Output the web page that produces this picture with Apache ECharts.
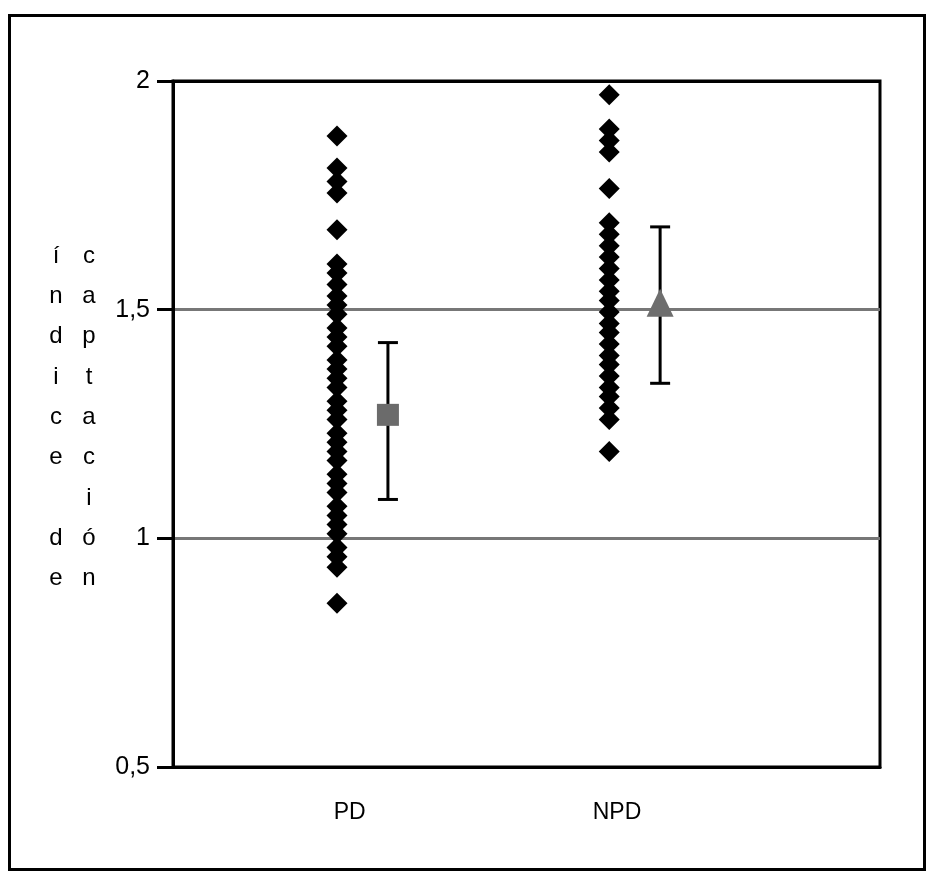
<!DOCTYPE html>
<html>
<head>
<meta charset="utf-8">
<script src="https://cdn.jsdelivr.net/npm/echarts@6/dist/echarts.min.js"></script>
<style>
  html, body { margin: 0; padding: 0; background: #fff; }
  #chart { width: 936px; height: 882px; }
</style>
</head>
<body>
<div id="chart"></div>
<script>
// individual values, read top to bottom
var pdValues = [1.88, 1.81, 1.78, 1.755, 1.675,
	1.60, 1.58, 1.555, 1.53, 1.51, 1.49, 1.46, 1.44, 1.42, 1.39,
	1.37, 1.35, 1.33, 1.30, 1.28, 1.26, 1.23, 1.21, 1.19, 1.17,
	1.14, 1.12, 1.10, 1.07, 1.05, 1.03, 1.01, 0.98, 0.96, 0.937,
	0.858];
var npdValues = [1.97, 1.895, 1.87, 1.845, 1.765,
	1.69, 1.665, 1.64, 1.615, 1.59, 1.565, 1.54, 1.52, 1.495, 1.47,
	1.45, 1.425, 1.40, 1.38, 1.355, 1.33, 1.31, 1.285, 1.26,
	1.19];

// mean and error bar ends per group
var groupNames = ['PD', 'NPD'];
var meanValues = [1.27, 1.515];
var lowValues = [1.085, 1.339];
var highValues = [1.428, 1.681];

// x positions on the hidden 0..10 scale
var pointsX = [2.32, 6.17];
var meanX = [3.04, 6.89];
var labelX = [2.5, 6.28];

var yTicks = [0.5, 1, 1.5, 2];

var font = 'Liberation Sans, Arial, sans-serif';

var myChart = echarts.init(document.getElementById('chart'));

var pdData = pdValues.map(function(v) { return [pointsX[0], v]; });
var npdData = npdValues.map(function(v) { return [pointsX[1], v]; });
var errData = [];
for (var i = 0; i < groupNames.length; i++) {
	errData.push([meanX[i], lowValues[i], highValues[i]]);
}

var option = {
	animation: false,
	backgroundColor: '#fff',
	grid: {
		left: 173,
		right: 56,
		top: 81,
		bottom: 115,
		show: true,
		borderColor: '#000',
		borderWidth: 3
	},
	xAxis: {
		type: 'value',
		min: 0,
		max: 10,
		splitLine: { show: false },
		axisTick: { show: false },
		axisLine: { lineStyle: { color: '#000', width: 3 } },
		axisLabel: {
			customValues: labelX,
			margin: 34,
			color: '#000',
			fontSize: 23,
			fontFamily: font,
			formatter: function(val) {
				var idx = labelX.indexOf(val);
				return idx >= 0 ? groupNames[idx] : '';
			}
		}
	},
	yAxis: {
		type: 'value',
		min: yTicks[0],
		max: yTicks[yTicks.length - 1],
		interval: 0.5,
		axisLine: { show: true, lineStyle: { color: '#000', width: 3 } },
		axisTick: { show: true, length: 16, lineStyle: { color: '#000', width: 3 } },
		axisLabel: {
			margin: 23,
			color: '#000',
			fontSize: 25,
			fontFamily: font,
			formatter: function(v) {
				return String(v).replace('.', ',');
			}
		},
		splitLine: {
			show: true,
			lineStyle: { color: ['#000', '#777', '#777', '#000'], width: 3 }
		}
	},
	series: [{
		name: 'PD',
		type: 'scatter',
		symbol: 'diamond',
		symbolSize: 21,
		itemStyle: { color: '#000', opacity: 1 },
		data: pdData,
		z: 3
	}, {
		name: 'NPD',
		type: 'scatter',
		symbol: 'diamond',
		symbolSize: 21,
		itemStyle: { color: '#000', opacity: 1 },
		data: npdData,
		z: 3
	}, {
		name: 'error',
		type: 'custom',
		data: errData,
		z: 4,
		renderItem: function(params, api) {
			var x = api.value(0);
			var lo = api.coord([x, api.value(1)]);
			var hi = api.coord([x, api.value(2)]);
			var half = 10;
			var style = { stroke: '#000', lineWidth: 3 };
			return {
				type: 'group',
				children: [{
					type: 'line',
					shape: { x1: lo[0], y1: lo[1], x2: hi[0], y2: hi[1] },
					style: style
				}, {
					type: 'line',
					shape: { x1: lo[0] - half, y1: lo[1], x2: lo[0] + half, y2: lo[1] },
					style: style
				}, {
					type: 'line',
					shape: { x1: hi[0] - half, y1: hi[1], x2: hi[0] + half, y2: hi[1] },
					style: style
				}]
			};
		}
	}, {
		name: 'PD mean',
		type: 'scatter',
		symbol: 'rect',
		symbolSize: 22,
		itemStyle: { color: '#6b6b6b', opacity: 1 },
		data: [[meanX[0], meanValues[0]]],
		z: 5
	}, {
		name: 'NPD mean',
		type: 'scatter',
		symbol: 'triangle',
		symbolSize: [27, 28],
		itemStyle: { color: '#6e6e6e', opacity: 1 },
		data: [[meanX[1], meanValues[1]]],
		z: 5
	}],
	graphic: [{
		type: 'rect',
		shape: { x: 9.5, y: 15.5, width: 915, height: 854 },
		style: { fill: null, stroke: '#000', lineWidth: 3 },
		silent: true
	}, {
		type: 'text',
		x: 56,
		y: 236,
		style: {
			text: 'í\nn\nd\ni\nc\ne\n \nd\ne',
			fill: '#000',
			font: '24px ' + font,
			lineHeight: 40.3,
			align: 'center',
			verticalAlign: 'top'
		}
	}, {
		type: 'text',
		x: 89,
		y: 236,
		style: {
			text: 'c\na\np\nt\na\nc\ni\nó\nn',
			fill: '#000',
			font: '24px ' + font,
			lineHeight: 40.3,
			align: 'center',
			verticalAlign: 'top'
		}
	}]
};

myChart.setOption(option);
</script>
</body>
</html>
